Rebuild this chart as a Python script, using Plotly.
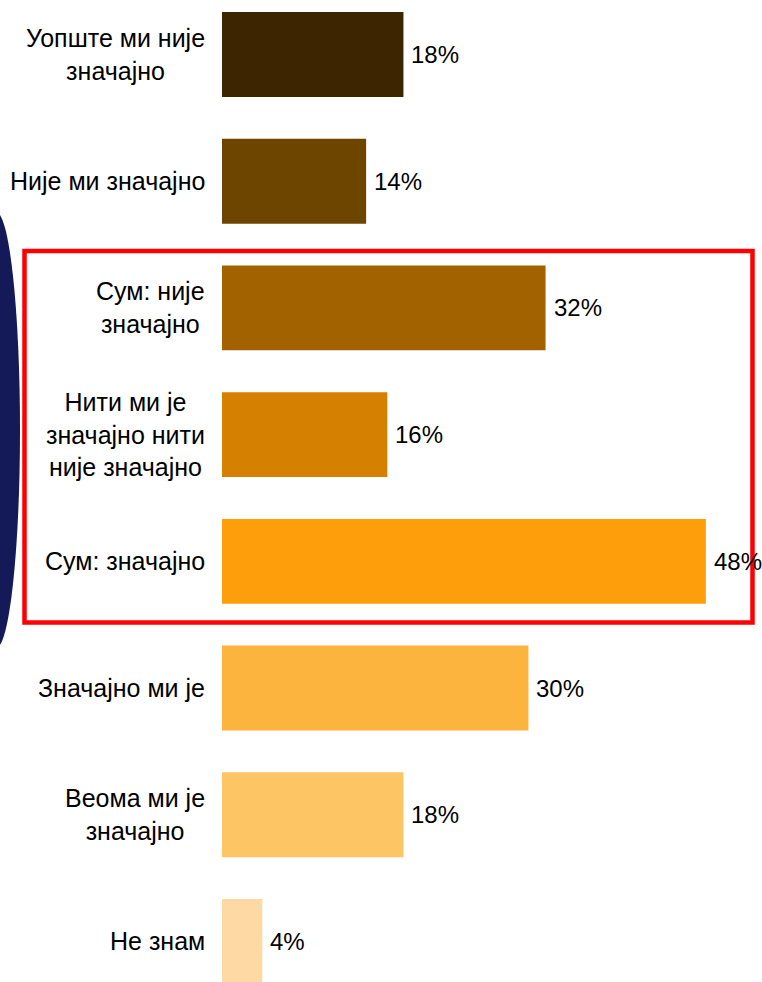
import plotly.graph_objects as go

categories = ["Уопште ми није значајно", "Није ми значајно", "Сум: није значајно",
              "Нити ми је значајно нити није значајно", "Сум: значајно",
              "Значајно ми је", "Веома ми је значајно", "Не знам"]
tick_labels = ["Уопште ми није<br>значајно", "Није ми значајно", "Сум: није<br>значајно",
               "Нити ми је<br>значајно нити<br>није значајно", "Сум: значајно",
               "Значајно ми је", "Веома ми је<br>значајно", "Не знам"]
values = [18.0, 14.3, 32.1, 16.4, 48.0, 30.4, 18.0, 4.0]
value_labels = ["18%", "14%", "32%", "16%", "48%", "30%", "18%", "4%"]
colors = ["#3c2500", "#6d4400", "#a36200", "#d68000", "#fe9e0a",
          "#fdb43e", "#fdc564", "#fed9a3"]

W, H = 762, 982
L = 222
PX_PER_UNIT = 10.08
FONT = "Liberation Sans, Arial, sans-serif"

fig = go.Figure()
fig.add_trace(go.Bar(
    x=values, y=categories, orientation="h",
    marker=dict(color=colors, line=dict(width=0)),
    width=0.67, hoverinfo="skip",
))

annotations = []
for cat, lab in zip(categories, tick_labels):
    annotations.append(dict(
        x=-15 / (W - L), xref="paper", y=cat, yref="y",
        text=lab, showarrow=False, xanchor="right", yanchor="middle",
        align="center", font=dict(family=FONT, size=25, color="black"),
    ))
for cat, v, t in zip(categories, values, value_labels):
    annotations.append(dict(
        x=v, xref="x", y=cat, yref="y", text=t, showarrow=False,
        xanchor="left", yanchor="middle", xshift=6,
        font=dict(family=FONT, size=24, color="black"),
    ))

def px_x(p):
    return (p - L) / (W - L)

def px_y(p):
    return 1 - p / H

shapes = [
    dict(type="circle", xref="paper", yref="paper",
         x0=px_x(-28), x1=px_x(20), y0=px_y(648), y1=px_y(212),
         fillcolor="#131a57", line=dict(width=0), layer="below"),
    dict(type="rect", xref="paper", yref="paper",
         x0=px_x(24.5), x1=px_x(752.5), y0=px_y(622.5), y1=px_y(251),
         line=dict(color="#ff0000", width=4.5), fillcolor="rgba(0,0,0,0)"),
]

fig.update_layout(
    width=W, height=H,
    margin=dict(l=L, r=0, t=0, b=0),
    paper_bgcolor="white", plot_bgcolor="white",
    showlegend=False,
    xaxis=dict(range=[0, (W - L) / PX_PER_UNIT], visible=False, fixedrange=True),
    yaxis=dict(type="category", categoryorder="array", categoryarray=categories,
               range=[7.32, -0.43], visible=False, fixedrange=True),
    annotations=annotations,
    shapes=shapes,
)

fig.write_html("out.html", config={"displayModeBar": False},
               post_script="document.body.style.margin='0';document.body.style.overflow='hidden';")
